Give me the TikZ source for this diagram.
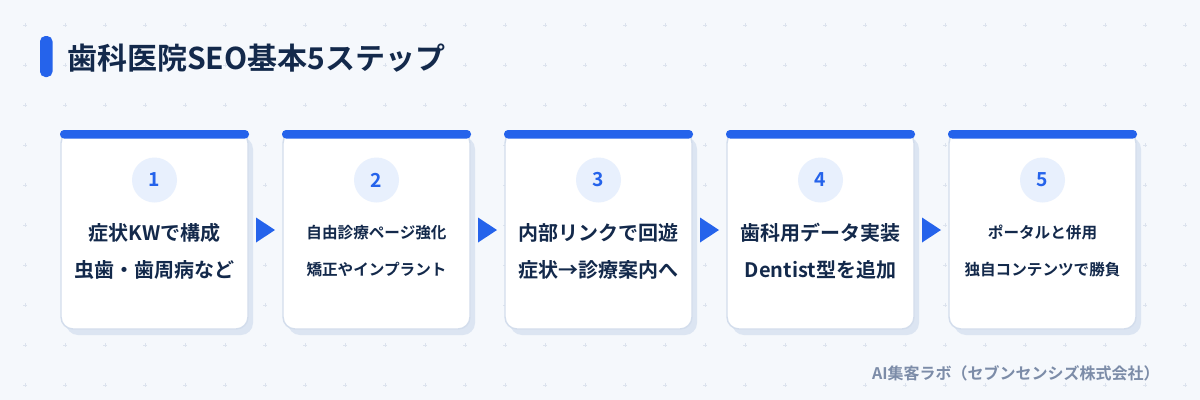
\documentclass[tikz,border=0pt]{standalone}
\usepackage{fontspec}
\setmainfont{Noto Sans CJK JP}[BoldFont={Noto Sans CJK JP Bold}]
\usetikzlibrary{calc,shadows}
\definecolor{bgc}{HTML}{F5F8FC}
\definecolor{gridc}{HTML}{DCE3EE}
\definecolor{accent}{HTML}{2563EB}
\definecolor{navy}{HTML}{13294B}
\definecolor{cardline}{HTML}{D3DDEC}
\definecolor{shadowc}{HTML}{DCE5F2}
\definecolor{circfill}{HTML}{E8F0FD}
\definecolor{footc}{HTML}{7C8CA8}
\tikzset{
  cardbox/.style={rectangle, draw=cardline, line width=1.1pt, fill=white,
    rounded corners=9pt, minimum width=140.25pt, minimum height=148.5pt,
    inner sep=0pt, outer sep=0pt,
    drop shadow={shadow xshift=3.75pt, shadow yshift=-4.5pt, fill=shadowc, opacity=1}},
  numcirc/.style={circle, fill=circfill, minimum size=33.75pt, inner sep=0pt,
    text=accent, font=\fontsize{14.5}{16}\selectfont\bfseries},
  big/.style={inner sep=0pt, text=navy, font=\fontsize{15}{18}\selectfont\bfseries},
  small/.style={inner sep=0pt, text=navy, font=\fontsize{11.7}{14}\selectfont\bfseries},
  titletext/.style={inner sep=0pt, text=navy, font=\fontsize{22.5}{26}\selectfont\bfseries},
  foottext/.style={inner sep=0pt, text=footc, font=\fontsize{12}{14}\selectfont\bfseries},
  gridmark/.style={gridc, line width=0.75pt},
  steparrow/.style={fill=accent}
}
\begin{document}
\begin{tikzpicture}[x=0.75pt,y=-0.75pt]
\fill[bgc] (0,0) rectangle (1200,400);
\useasboundingbox (0,0) rectangle (1200,400);
% grid marks
\foreach \gx in {25,65,...,1185}{
  \foreach \gy in {25,65,...,385}{
    \draw[gridmark] (\gx-2,\gy) -- (\gx+2,\gy) (\gx,\gy-2) -- (\gx,\gy+2);
  }
}
% title
\fill[accent, rounded corners=4pt] (40,36) rectangle (52.5,77);
\node[titletext, anchor=west] (title) at (67,58) {歯科医院SEO基本5ステップ};
% cards
\foreach \i/\la/\lb/\sz in {1/症状KWで構成/虫歯・歯周病など/big,
                           2/自由診療ページ強化/矯正やインプラント/small,
                           3/内部リンクで回遊/症状→診療案内へ/big,
                           4/歯科用データ実装/Dentist型を追加/big,
                           5/ポータルと併用/独自コンテンツで勝負/small}{
  \pgfmathsetmacro\xc{154.5+222*(\i-1)}
  \node[cardbox] (c\i) at (\xc,230) {};
  \fill[accent, rounded corners=3pt] ($(c\i.north west)+(-1,-1)$) rectangle ($(c\i.north east)+(1,7.5)$);
  \node[numcirc] (n\i) at (\xc,180) {\i};
  \node[\sz] (a\i) at (\xc,232.5) {\la};
  \node[\sz] (b\i) at (\xc,269.5) {\lb};
}
% arrows between cards
\foreach \i in {1,2,3,4}{
  \fill[steparrow] ($(c\i.east)+(8,-12.5)$) -- ($(c\i.east)+(8,12.5)$) -- ($(c\i.east)+(27,0)$) -- cycle;
}
% footer
\node[foottext, anchor=east] (foot) at (1160,373) {AI集客ラボ（セブンセンシズ株式会社）};
\end{tikzpicture}
\end{document}
